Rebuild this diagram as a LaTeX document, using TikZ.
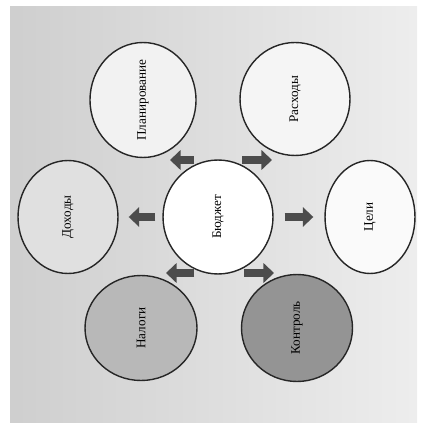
\documentclass[tikz,border=0pt]{standalone}
\usepackage{fontspec}
\setmainfont{Liberation Serif}
\usetikzlibrary{arrows.meta,calc,positioning,shapes.geometric}

\begin{document}
\begin{tikzpicture}[x=0.02cm,y=-0.02cm,>=Latex,
  circ/.style={ellipse,draw=black!85,line width=0.8pt,inner sep=0pt,
    font=\fontsize{7.5}{8}\selectfont},
  bigarrow/.style={draw=black!70,line width=4pt,
    -{Triangle[length=6pt,width=11pt]}}]
  % background panel
  \useasboundingbox (0,0) rectangle (422,428);
  \shade[left color=black!19,right color=black!7] (10,7) rectangle (417,422);
  % circles
  \node[circ,fill=white,minimum width=2.2cm,minimum height=2.28cm] (mid) at (218,217)
    {\rotatebox{90}{Бюджет}};
  \node[circ,fill=black!5,minimum width=2.12cm,minimum height=2.3cm] (tl) at (143,100)
    {\rotatebox{90}{Планирование}};
  \node[circ,fill=black!4,minimum width=2.2cm,minimum height=2.26cm] (tr) at (295,99)
    {\rotatebox{90}{Расходы}};
  \node[circ,fill=black!12,minimum width=2cm,minimum height=2.26cm] (lft) at (68,217)
    {\rotatebox{90}{Доходы}};
  \node[circ,fill=black!2,minimum width=1.8cm,minimum height=2.26cm] (rgt) at (370,217)
    {\rotatebox{90}{Цели}};
  \node[circ,fill=black!28,minimum width=2.24cm,minimum height=2.1cm] (bl) at (141,328)
    {\rotatebox{90}{Налоги}};
  \node[circ,fill=black!42,minimum width=2.22cm,minimum height=2.14cm] (br) at (297,328)
    {\rotatebox{90}{Контроль}};
  % arrows
  \draw[bigarrow,shorten <=0.14cm,shorten >=0.2cm] (mid) -- (lft);
  \draw[bigarrow,shorten <=0.22cm,shorten >=0.22cm] (mid) -- (rgt);
  \coordinate (a1) at (194,160);
  \coordinate (b1) at (170,160);
  \coordinate (a2) at (242,160);
  \coordinate (b2) at (272,160);
  \coordinate (a3) at (194,273);
  \coordinate (b3) at (166,273);
  \coordinate (a4) at (244,273);
  \coordinate (b4) at (274,273);
  \draw[bigarrow] (a1) -- (b1);
  \draw[bigarrow] (a2) -- (b2);
  \draw[bigarrow] (a3) -- (b3);
  \draw[bigarrow] (a4) -- (b4);
\end{tikzpicture}
\end{document}
